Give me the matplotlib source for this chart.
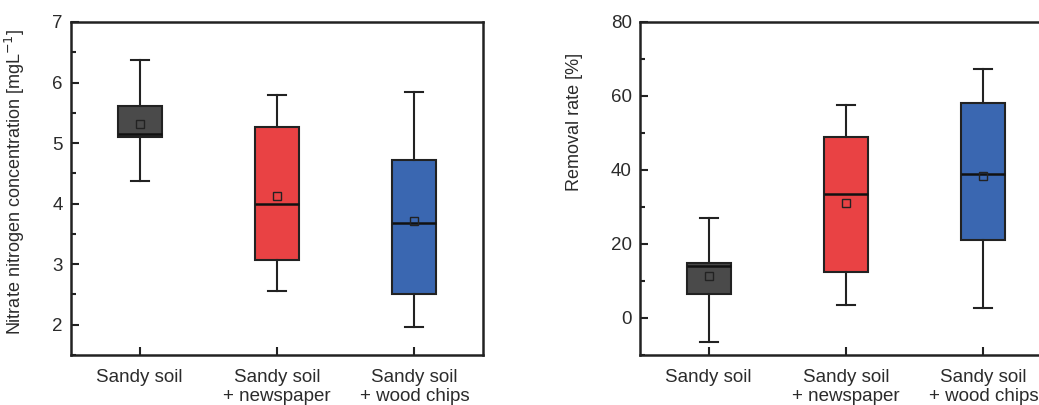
import matplotlib
matplotlib.use("Agg")
import matplotlib.pyplot as plt
from matplotlib.ticker import MultipleLocator

plt.rcParams['font.family'] = ['Liberation Sans', 'DejaVu Sans']

categories = ["Sandy soil", "Sandy soil\n+ newspaper", "Sandy soil\n+ wood chips"]
colors = ["#4a4a4a", "#e94244", "#3a67b1"]

# Nitrate nitrogen concentration [mg/L]
nit_whislo = [4.38, 2.55, 1.96]
nit_q1     = [5.10, 3.07, 2.51]
nit_med    = [5.15, 4.00, 3.68]
nit_q3     = [5.61, 5.26, 4.72]
nit_whishi = [6.38, 5.80, 5.84]
nit_mean   = [5.31, 4.13, 3.71]

# Removal rate [%]
rem_whislo = [-6.4, 3.4, 2.7]
rem_q1     = [6.4, 12.4, 21.2]
rem_med    = [14.0, 33.5, 38.8]
rem_q3     = [14.9, 48.8, 58.1]
rem_whishi = [27.0, 57.5, 67.4]
rem_mean   = [11.4, 31.2, 38.3]

text_color = "#2b2b2b"
line_color = "#222222"

fig = plt.figure(figsize=(10.39, 4.05), dpi=100)
ax1 = fig.add_axes([71/1039, 1-355/405, 412/1039, 333/405])
ax2 = fig.add_axes([640/1039, 1-355/405, 412/1039, 333/405])


def draw(ax, lo, q1, med, q3, hi, mean):
    stats = []
    for i in range(len(categories)):
        stats.append(dict(whislo=lo[i], q1=q1[i], med=med[i], q3=q3[i],
                          whishi=hi[i], mean=mean[i], fliers=[]))
    bp = ax.bxp(stats, positions=[1, 2, 3], widths=0.32, patch_artist=True,
                showmeans=True, capwidths=0.13,
                boxprops=dict(edgecolor=line_color, linewidth=1.5),
                medianprops=dict(color="#111111", linewidth=1.8),
                whiskerprops=dict(color=line_color, linewidth=1.5),
                capprops=dict(color=line_color, linewidth=1.5),
                meanprops=dict(marker="s", markerfacecolor="none",
                               markeredgecolor="#222222", markersize=5.5,
                               markeredgewidth=1.0))
    for patch, c in zip(bp['boxes'], colors):
        patch.set_facecolor(c)
    ax.set_xlim(0.5, 3.5)
    ax.set_xticks([1, 2, 3])
    ax.set_xticklabels(categories, fontsize=13.5, color=text_color, linespacing=1.2)
    ax.tick_params(axis='both', direction='in', length=6, width=1.5,
                   colors=line_color, labelcolor=text_color, labelsize=13.5)
    ax.tick_params(axis='x', pad=10)
    ax.tick_params(axis='y', pad=6)
    ax.tick_params(axis='y', which='minor', direction='in', length=3.5, width=1.5,
                   colors=line_color)
    for s in ax.spines.values():
        s.set_linewidth(1.8)
        s.set_color(line_color)


draw(ax1, nit_whislo, nit_q1, nit_med, nit_q3, nit_whishi, nit_mean)
ax1.set_ylim(1.5, 7)
ax1.yaxis.set_major_locator(MultipleLocator(1))
ax1.yaxis.set_minor_locator(MultipleLocator(0.5))
ax1.set_ylabel("Nitrate nitrogen concentration [mgL$^{-1}$]", fontsize=13,
               color=text_color)
ax1.yaxis.set_label_coords(-0.107, 0.52)

draw(ax2, rem_whislo, rem_q1, rem_med, rem_q3, rem_whishi, rem_mean)
ax2.set_ylim(-10, 80)
ax2.yaxis.set_major_locator(MultipleLocator(20))
ax2.yaxis.set_minor_locator(MultipleLocator(10))
ax2.set_ylabel("Removal rate [%]", fontsize=13, color=text_color)
ax2.yaxis.set_label_coords(-0.138, 0.70)

fig.savefig("out.png", dpi=100)
